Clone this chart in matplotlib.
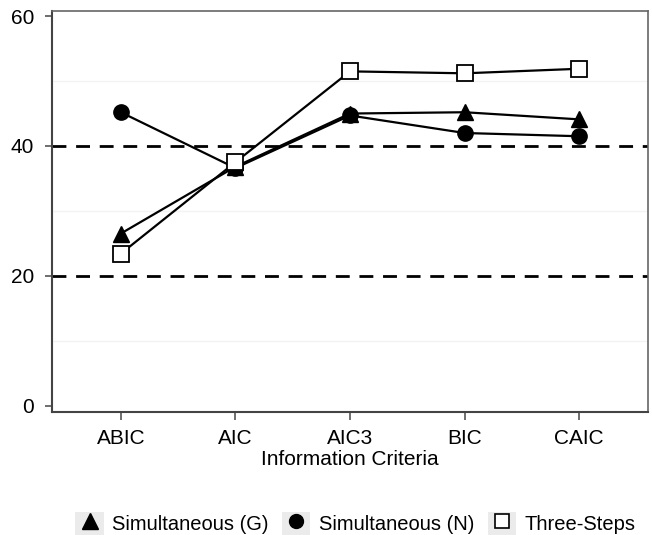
import matplotlib.pyplot as plt
from matplotlib.lines import Line2D
from matplotlib.patches import Rectangle
from matplotlib.legend_handler import HandlerTuple
import numpy as np

plt.rcParams['font.family'] = ['Liberation Sans', 'DejaVu Sans']

criteria = ['ABIC', 'AIC', 'AIC3', 'BIC', 'CAIC']
sim_g = [26.5, 36.8, 45.0, 45.2, 44.1]
sim_n = [45.2, 36.6, 44.7, 42.0, 41.5]
three_steps = [23.4, 37.5, 51.5, 51.2, 51.9]

fig = plt.figure(figsize=(6.52, 5.35), dpi=100)
ax = fig.add_axes([0.0798, 0.2299, 0.9141, 0.7495])

x = np.arange(len(criteria))

# faint grid + dashed reference lines
for g in [10, 30, 50]:
    ax.axhline(g, color='#f3f3f3', linewidth=1.0, zorder=0)
for r in [20, 40]:
    ax.axhline(r, color='black', linewidth=2.0, linestyle=(0, (5, 3.5)), zorder=1)

ax.plot(x, sim_g, color='black', linewidth=1.6, marker='^', markersize=12,
        markerfacecolor='black', zorder=3)
ax.plot(x, sim_n, color='black', linewidth=1.6, marker='o', markersize=11,
        markerfacecolor='black', zorder=4)
ax.plot(x, three_steps, color='black', linewidth=1.6, marker='s', markersize=11,
        markerfacecolor='white', markeredgewidth=1.3, zorder=5)

ax.set_xlim(-0.6, 4.6)
ax.set_ylim(-1.0, 60.8)
ax.set_xticks(x)
ax.set_xticklabels(criteria, fontsize=15)
ax.set_yticks([0, 20, 40, 60])
ax.tick_params(axis='y', labelsize=15, length=5, width=1.2, color='#555555', pad=8)
ax.tick_params(axis='x', labelsize=15, length=6, width=1.2, color='#555555', pad=6)
ax.set_xlabel('Information Criteria', fontsize=15, labelpad=2)

for side in ['left', 'bottom']:
    ax.spines[side].set_color('#444444')
    ax.spines[side].set_linewidth(1.5)
for side in ['top', 'right']:
    ax.spines[side].set_color('#666666')
    ax.spines[side].set_linewidth(1.2)

bg = '#ebebeb'
h1 = (Rectangle((0, 0), 1, 1, facecolor=bg, edgecolor='none'),
      Line2D([], [], linestyle='none', marker='^', markersize=11, color='black'))
h2 = (Rectangle((0, 0), 1, 1, facecolor=bg, edgecolor='none'),
      Line2D([], [], linestyle='none', marker='o', markersize=10, color='black'))
h3 = (Rectangle((0, 0), 1, 1, facecolor=bg, edgecolor='none'),
      Line2D([], [], linestyle='none', marker='s', markersize=10, color='black',
             markerfacecolor='white', markeredgewidth=1.2))
fig.legend([h1, h2, h3], ['Simultaneous (G)', 'Simultaneous (N)', 'Three-Steps'],
           handler_map={tuple: HandlerTuple(ndivide=1)},
           loc='center', bbox_to_anchor=(0.545, 0.022), ncol=3, frameon=False,
           fontsize=14.5, handlelength=1.4, handleheight=1.4, handletextpad=0.4,
           columnspacing=0.7, borderpad=0)

fig.savefig('out.png', dpi=100)
